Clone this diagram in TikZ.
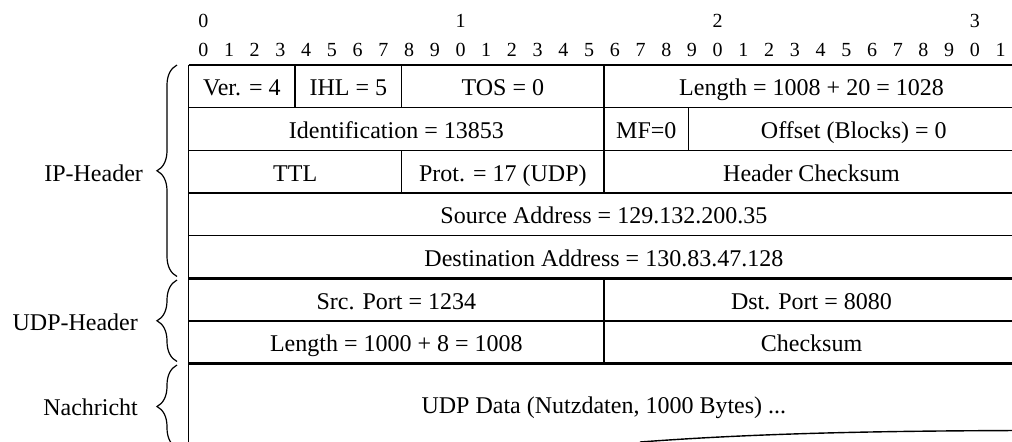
\documentclass[tikz,border=0pt]{standalone}
\usepackage{fontspec}
\setmainfont{Liberation Serif}
\usetikzlibrary{decorations.pathreplacing}
\begin{document}
\begin{tikzpicture}[x=0.5pt,y=-0.5pt,
  thin line/.style={line width=0.7pt,draw=black},
  thick line/.style={line width=1.6pt,draw=black},
  celltext/.style={inner sep=0pt,anchor=base,font=\fontsize{12}{14}\selectfont},
  bitnum/.style={inner sep=0pt,anchor=base,font=\fontsize{10}{12}\selectfont},
  lbl/.style={inner sep=0pt,anchor=base east,font=\fontsize{12}{14}\selectfont},
  bracestyle/.style={line width=0.6pt,decorate,decoration={brace,amplitude=10pt}}]
\useasboundingbox (0,0) rectangle (1012,441);
\clip (0,0) rectangle (1012,441);
% column and row positions
\def\cL{188.7}\def\cA{295}\def\cB{401.7}\def\cC{604}\def\cD{688.7}\def\cR{1019}
\def\rA{65}\def\rB{107.65}\def\rC{150.3}\def\rD{192.95}\def\rE{235.6}\def\rF{278.25}\def\rG{320.9}\def\rH{363.55}
\def\bo{9.6}
% bit scale
\foreach \i in {0,...,31}{
  \pgfmathtruncatemacro{\dg}{mod(\i,10)}
  \node[bitnum] (bit\i) at (203.3+25.72*\i,56.7) {\dg};
}
\foreach \i/\t in {0/0,10/1,20/2,30/3}
  \node[bitnum] (dec\i) at (203.3+25.72*\i,27.7) {\t};
% horizontal lines
\foreach \r in {\rA,\rB,\rC,\rD,\rE,\rG}
  \draw[thin line] (\cL,\r) -- (\cR,\r);
\foreach \r in {\rF,\rH}
  \draw[thick line] (\cL,\r) -- (\cR,\r);
% outer verticals
\draw[thin line] (\cL,\rA) -- (\cL,450);
\draw[thin line] (\cR,\rA) -- (\cR,450);
% inner verticals
\draw[thin line] (\cA,\rA) -- (\cA,\rB);
\draw[thin line] (\cB,\rA) -- (\cB,\rB);
\draw[thin line] (\cC,\rA) -- (\cC,\rD);
\draw[thin line] (\cD,\rB) -- (\cD,\rC);
\draw[thin line] (\cB,\rC) -- (\cB,\rD);
\draw[thin line] (\cC,\rF) -- (\cC,\rH);
% torn bottom edge
\draw[thin line] (640,442) .. controls (740,434.5) and (850,431) .. (1019,430.5);
% cell texts
\node[celltext] (ver) at ({(\cL+\cA)/2},{(\rA+\rB)/2+\bo}) {Ver. = 4};
\node[celltext] (ihl) at ({(\cA+\cB)/2},{(\rA+\rB)/2+\bo}) {IHL = 5};
\node[celltext] (tos) at ({(\cB+\cC)/2},{(\rA+\rB)/2+\bo}) {TOS = 0};
\node[celltext] (len) at ({(\cC+\cR)/2},{(\rA+\rB)/2+\bo}) {Length = 1008 + 20 = 1028};
\node[celltext] (ident) at ({(\cL+\cC)/2},{(\rB+\rC)/2+\bo}) {Identification = 13853};
\node[celltext] (mf) at ({(\cC+\cD)/2},{(\rB+\rC)/2+\bo}) {MF=0};
\node[celltext] (off) at ({(\cD+\cR)/2},{(\rB+\rC)/2+\bo}) {Offset (Blocks) = 0};
\node[celltext] (ttl) at ({(\cL+\cB)/2},{(\rC+\rD)/2+\bo}) {TTL};
\node[celltext] (prot) at ({(\cB+\cC)/2},{(\rC+\rD)/2+\bo}) {Prot. = 17 (UDP)};
\node[celltext] (hcs) at ({(\cC+\cR)/2},{(\rC+\rD)/2+\bo}) {Header Checksum};
\node[celltext] (src) at ({(\cL+\cR)/2},{(\rD+\rE)/2+\bo}) {Source Address = 129.132.200.35};
\node[celltext] (dst) at ({(\cL+\cR)/2},{(\rE+\rF)/2+\bo}) {Destination Address = 130.83.47.128};
\node[celltext] (sport) at ({(\cL+\cC)/2},{(\rF+\rG)/2+\bo}) {Src. Port = 1234};
\node[celltext] (dport) at ({(\cC+\cR)/2},{(\rF+\rG)/2+\bo}) {Dst. Port = 8080};
\node[celltext] (ulen) at ({(\cL+\cC)/2},{(\rG+\rH)/2+\bo}) {Length = 1000 + 8 = 1008};
\node[celltext] (ucs) at ({(\cC+\cR)/2},{(\rG+\rH)/2+\bo}) {Checksum};
\node[celltext] (data) at ({(\cL+\cR)/2},413.5) {UDP Data (Nutzdaten, 1000 Bytes) ...};
% braces
\draw[bracestyle] (177,276.5) -- coordinate (ipb) (177,65);
\draw[bracestyle] (177,361.5) -- coordinate (udpb) (177,280);
\draw[bracestyle] (177,448) -- coordinate (msgb) (177,365);
% labels
\node[lbl] (iplbl) at (143.3,181.5) {IP-Header};
\node[lbl] (udplbl) at (138.3,330) {UDP-Header};
\node[lbl] (msglbl) at (138.3,415) {Nachricht};
\end{tikzpicture}
\end{document}
